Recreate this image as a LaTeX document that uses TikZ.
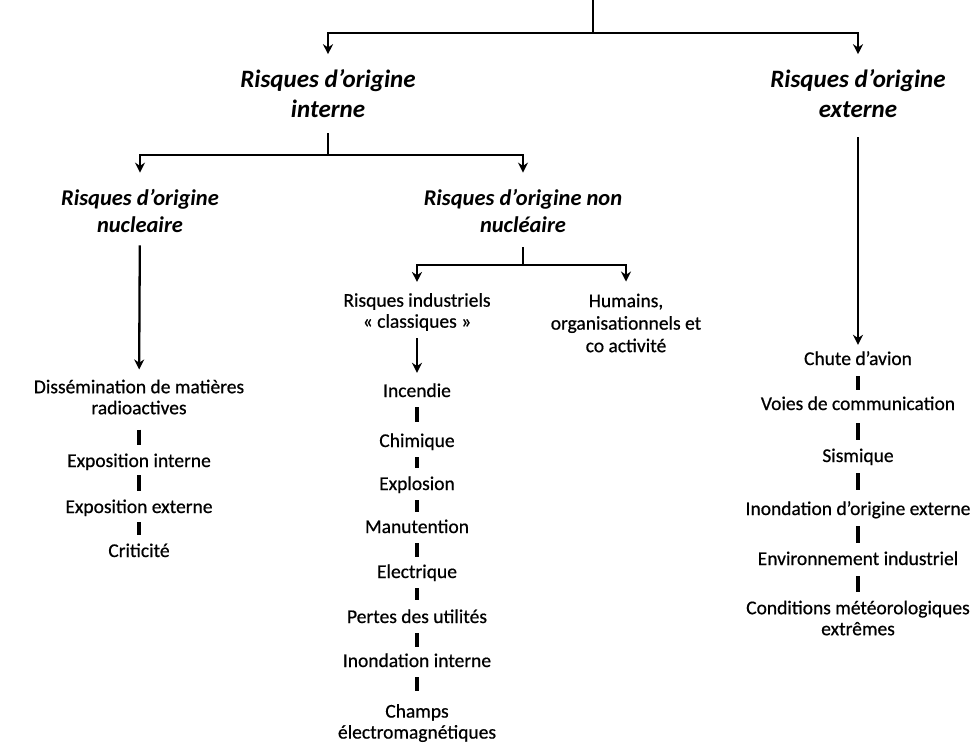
\documentclass[tikz,border=0pt]{standalone}
\usepackage{fontspec}
\setmainfont{Carlito}
\newfontfamily\bodyfont[FakeBold=0.6]{Carlito}
\usetikzlibrary{arrows.meta}
\begin{document}
\begin{tikzpicture}[x=1pt,y=-1pt,
  ln/.style={line width=2.3pt},
  arr/.style={line width=2.3pt,-{Stealth[length=10pt,width=10pt]}},
  bar/.style={line width=3.3pt,shorten <=7pt,shorten >=8pt},
  hdr/.style={font=\fontsize{25}{30}\selectfont\bfseries\itshape,align=center,inner sep=0pt},
  sub/.style={font=\fontsize{22.5}{27}\selectfont\bfseries\itshape,align=center,inner sep=0pt},
  item/.style={font=\bodyfont\fontsize{19.5}{21}\selectfont,inner sep=0pt,text height=14pt,text depth=4pt},
  multi/.style={font=\bodyfont\fontsize{19.5}{21}\selectfont,align=center,inner sep=0pt},
]
\useasboundingbox (0,0) rectangle (973,742);

% level 1
\coordinate (t0) at (593,0);
\coordinate (j0) at (593,33);
\node[hdr] (hint) at (328,94) {Risques d’origine\\interne};
\node[hdr] (hext) at (858,94) {Risques d’origine\\externe};

% level 2
\coordinate (j1) at (328,155);
\node[sub] (hnuc) at (140,210.5) {Risques d’origine\\nucleaire};
\node[sub] (hnon) at (523,210.5) {Risques d’origine non\\nucléaire};

% nuclear column
\node[multi] (diss) at (139,397) {Dissémination de matières\\radioactives};
\node[item] (expi) at (139,462) {Exposition interne};
\node[item] (expe) at (139,508) {Exposition externe};
\node[item] (crit) at (139,552) {Criticité};

% non nuclear
\coordinate (j3) at (523,265);
\node[multi] (rind) at (417,312) {Risques industriels\\« classiques »};
\node[multi,font=\bodyfont\fontsize{19.5}{22.5}\selectfont] (hum) at (626,323) {Humains,\\organisationnels et\\co activité};
\node[item] (inc) at (417,392) {Incendie};
\node[item] (chim) at (417,442) {Chimique};
\node[item] (expl) at (417,485) {Explosion};
\node[item] (manu) at (417,528) {Manutention};
\node[item] (elec) at (417,573) {Electrique};
\node[item] (pert) at (417,618) {Pertes des utilités};
\node[item] (inoi) at (417,662) {Inondation interne};
\node[multi] (champ) at (417,723) {Champs\\électromagnétiques};

% external column
\node[item] (chute) at (858,360) {Chute d’avion};
\node[item] (voies) at (858,405) {Voies de communication};
\node[item] (sism) at (858,457) {Sismique};
\node[item] (inoe) at (858,510) {Inondation d’origine externe};
\node[item] (envi) at (858,560) {Environnement industriel};
\node[multi] (cond) at (858,618) {Conditions météorologiques\\extrêmes};

% connectors
\draw[ln] (t0) -- (j0);
\draw[arr,shorten >=15.5pt] (j0) -| (hint);
\draw[arr,shorten >=15.5pt] (j0) -| (hext);

\draw[ln,shorten <=15pt] (hint) -- (j1);
\draw[arr,shorten >=16pt] (j1) -| (hnuc);
\draw[arr,shorten >=16pt] (j1) -| (hnon);

\draw[arr,shorten <=13pt,shorten >=10pt] (hnuc) -- (diss);
\draw[bar,shorten <=15pt] (diss) -- (expi);
\draw[bar,shorten <=4pt] (expi) -- (expe);
\draw[bar,shorten <=5pt] (expe) -- (crit);

\draw[ln,shorten <=15pt] (hnon) -- (j3);
\draw[arr,shorten >=11pt] (j3) -| (rind);
\draw[arr,shorten >=12pt] (j3) -| (hum);

\draw[arr,shorten <=7pt,shorten >=10pt] (rind) -- (inc);
\draw[bar,shorten <=6pt,shorten >=11pt] (inc) -- (chim);
\draw[bar,shorten <=6pt] (chim) -- (expl);
\draw[bar,shorten <=6pt,shorten >=7pt] (expl) -- (manu);
\draw[bar,shorten <=6pt,shorten >=7pt] (manu) -- (elec);
\draw[bar,shorten <=6pt,shorten >=9pt] (elec) -- (pert);
\draw[bar,shorten <=6pt,shorten >=6pt] (pert) -- (inoi);
\draw[bar,shorten <=6pt,shorten >=13pt] (inoi) -- (champ);

\draw[arr,shorten <=19pt,shorten >=6pt] (hext) -- (chute);
\draw[bar,shorten >=6pt] (chute) -- (voies);
\draw[bar,shorten <=9pt] (voies) -- (sism);
\draw[bar,shorten >=11pt] (sism) -- (inoe);
\draw[bar] (inoe) -- (envi);
\draw[bar] (envi) -- (cond);
\end{tikzpicture}
\end{document}
